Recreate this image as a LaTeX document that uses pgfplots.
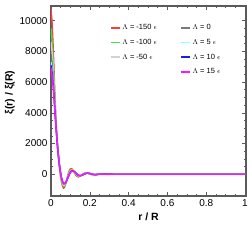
\documentclass[border=0pt]{standalone}
\usepackage{fontspec}
\setmainfont{Liberation Sans}
\usepackage{pgfplots}
\usepackage{pgfplotstable}
\pgfplotsset{compat=1.18}
\definecolor{cRed}{RGB}{255,60,60}
\definecolor{cGreen}{RGB}{70,225,70}
\definecolor{cLGray}{RGB}{210,210,210}
\definecolor{cDGray}{RGB}{120,120,120}
\definecolor{cCyan}{RGB}{140,255,255}
\definecolor{cBlue}{RGB}{30,30,225}
\definecolor{cMag}{RGB}{255,20,255}
\definecolor{frame}{RGB}{90,90,90}
\pgfplotstableread{
x     a     b     c     d     e     f     g
0     10800 9500  8600  7800  7300  7100  6900
0.005 10000 8830  8030  7310  6860  6680  6500
0.01  8700  7770  7120  6550  6190  6040  5900
0.015 7000  6370  5930  5540  5300  5200  5100
0.02  5200  4830  4580  4350  4210  4160  4100
0.025 3700  3530  3420  3320  3250  3230  3200
0.03  2500  2470  2440  2420  2410  2400  2400
0.035 1600  1600  1600  1600  1600  1600  1600
0.04  900   930   960   980   990   1000  1000
0.045 300   350   390   420   440   440   450
0.05  -200  -120  -60   0     20    40    50
0.055 -550  -460  -400  -340  -310  -290  -280
0.06  -800  -690  -620  -550  -510  -500  -480
0.065 -900  -790  -720  -650  -610  -600  -580
0.07  -850  -770  -710  -660  -630  -610  -600
0.075 -650  -620  -600  -580  -570  -560  -560
0.08  -400  -420  -430  -440  -450  -450  -450
0.085 -150  -200  -230  -270  -280  -290  -300
0.09  80    0     -50   -100  -130  -140  -150
0.095 250   170   110   60    30    10    0
0.10  340   260   210   160   130   120   110
0.105 360   300   260   220   200   190   180
0.11  320   280   260   240   220   220   210
0.115 220   220   220   210   210   210   210
0.12  100   130   150   160   170   180   180
0.13  -100  -50   -10   20    40    50    60
0.14  -180  -140  -110  -80   -60   -60   -50
0.15  -130  -120  -110  -110  -100  -100  -100
0.16  -30   -40   -50   -60   -70   -70   -70
0.17  60    40    30    10    10    0     0
0.18  90    80    70    60    50    50    50
0.19  60    60    60    70    70    70    70
0.20  10    20    30    40    50    50    50
0.21  -30   -20   -10   0     10    10    10
0.22  -40   -30   -30   -20   -20   -20   -20
0.23  -20   -20   -20   -30   -30   -30   -30
0.24  10    0     -10   -10   -20   -20   -20
0.25  25    20    10    10    0     0     0
0.27  10    10    10    15    15    15    15
0.29  -10   -5    0     0     5     5     5
0.32  0     0     0     0     0     0     0
0.5   0     0     0     0     0     0     0
1.0   0     0     0     0     0     0     0
}\data
\begin{document}
\begin{tikzpicture}
\begin{axis}[
  scale only axis,
  width=195pt, height=190pt,
  xmin=0, xmax=1.005,
  ymin=-1420, ymax=10960,
  xtick={0,0.2,0.4,0.6,0.8,1},
  xticklabels={0,0.2,0.4,0.6,0.8,1},
  ytick={0,2000,4000,6000,8000,10000},
  minor x tick num=3,
  minor y tick num=3,
  scaled y ticks=false,
  /pgf/number format/assume math mode=true,
  /pgf/number format/1000 sep={},
  tick align=inside,
  ticks=both,
  major tick length=4pt,
  minor tick length=2pt,
  every tick/.style={frame, line width=0.6pt},
  axis line style={frame, line width=1.2pt},
  tick label style={font=\fontsize{10}{12}\selectfont},
  xlabel={\bfseries r / R},
  ylabel={\bfseries ξ(r) / ξ(R)},
  label style={font=\fontsize{10.5}{12}\selectfont},
  xlabel style={at={(axis description cs:0.5,0)}, anchor=center, yshift=-21pt},
  ylabel style={at={(axis description cs:0,0.545)}, anchor=center, yshift=41pt},
  legend columns=2,
  legend cell align=left,
  legend style={draw=none, fill=none, at={(0.285,0.925)}, anchor=north west,
    font=\fontsize{7.5}{8.5}\selectfont, row sep=4pt,
    /tikz/every even column/.append style={column sep=21pt}},
  legend image code/.code={\draw[#1, line width=1.6pt] (0,0) -- (0.32cm,0);},
  every axis plot/.append style={line width=1.4pt},
]
\addplot[cRed, forget plot] table[x=x,y=a]{\data};
\addplot[cGreen, forget plot] table[x=x,y=b]{\data};
\addplot[cLGray, forget plot] table[x=x,y=c]{\data};
\addplot[cDGray, forget plot] table[x=x,y=d]{\data};
\addplot[cCyan, forget plot] table[x=x,y=e]{\data};
\addplot[cBlue, forget plot] table[x=x,y=f]{\data};
\addplot[cMag, forget plot] table[x=x,y=g]{\data};
\addlegendimage{color=cRed}\addlegendentry{$\Lambda$ = -150 $\epsilon$}
\addlegendimage{color=cDGray}\addlegendentry{$\Lambda$ = 0}
\addlegendimage{color=cGreen}\addlegendentry{$\Lambda$ = -100 $\epsilon$}
\addlegendimage{color=cCyan}\addlegendentry{$\Lambda$ = 5 $\epsilon$}
\addlegendimage{color=cLGray}\addlegendentry{$\Lambda$ = -50 $\epsilon$}
\addlegendimage{color=cBlue}\addlegendentry{$\Lambda$ = 10 $\epsilon$}
\addlegendimage{opacity=0}\addlegendentry{}
\addlegendimage{color=cMag}\addlegendentry{$\Lambda$ = 15 $\epsilon$}
\end{axis}
\pgfresetboundingbox
\path (current axis.south west) ++(-51pt,-45pt) coordinate (bl);
\path (current axis.north east) ++(6pt,6pt) coordinate (tr);
\path[use as bounding box] (bl) rectangle (tr);
\end{tikzpicture}
\end{document}
